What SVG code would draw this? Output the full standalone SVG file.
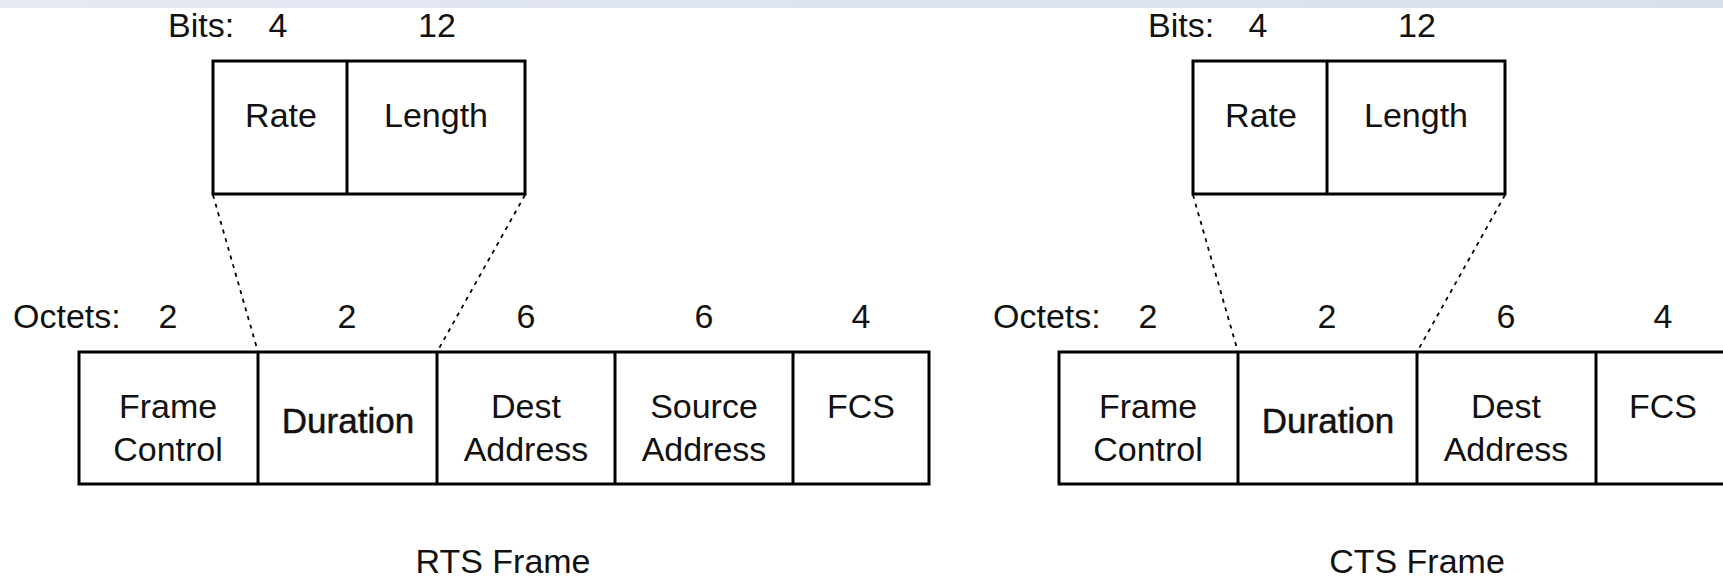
<svg xmlns="http://www.w3.org/2000/svg" width="1723" height="578" viewBox="0 0 1723 578">
<style>
  text { font-family: "Liberation Sans", Arial, sans-serif; font-size: 34px; fill: #111; }
  .c { text-anchor: middle; }
  .box { fill: #fff; stroke: #000; stroke-width: 3; }
  .div { stroke: #000; stroke-width: 3; }
  .dash { stroke: #000; stroke-width: 1.8; stroke-dasharray: 4 5; fill: none; }
  .dur { font-size: 35px; stroke: #111; stroke-width: 0.5; }
</style>
<defs>
  <linearGradient id="band" x1="0" y1="0" x2="1" y2="0">
    <stop offset="0" stop-color="#e4e9f2"/>
    <stop offset="1" stop-color="#d9e0ed"/>
  </linearGradient>
</defs>
<rect x="0" y="0" width="1723" height="578" fill="#fff"/>
<rect x="0" y="0" width="1723" height="8" fill="url(#band)"/>

<g id="connectors">
  <line class="dash" x1="213" y1="195" x2="258" y2="352"/>
  <line class="dash" x1="525" y1="195" x2="437" y2="352"/>
  <line class="dash" x1="1193" y1="195" x2="1238" y2="352"/>
  <line class="dash" x1="1505" y1="195" x2="1417" y2="352"/>
</g>

<g id="rts-bits">
  <text x="168" y="37">Bits:</text>
  <text class="c" x="278" y="37">4</text>
  <text class="c" x="437" y="37">12</text>
  <rect class="box" x="213" y="61" width="312" height="133"/>
  <line class="div" x1="347" y1="61" x2="347" y2="194"/>
  <text class="c" x="281" y="127">Rate</text>
  <text class="c" x="436" y="127">Length</text>
</g>

<g id="rts-frame">
  <text x="13" y="328">Octets:</text>
  <text class="c" x="168" y="328">2</text>
  <text class="c" x="347" y="328">2</text>
  <text class="c" x="526" y="328">6</text>
  <text class="c" x="704" y="328">6</text>
  <text class="c" x="861" y="328">4</text>
  <rect class="box" x="79" y="352" width="850" height="132"/>
  <line class="div" x1="258" y1="352" x2="258" y2="484"/>
  <line class="div" x1="437" y1="352" x2="437" y2="484"/>
  <line class="div" x1="615" y1="352" x2="615" y2="484"/>
  <line class="div" x1="793" y1="352" x2="793" y2="484"/>
  <text class="c" x="168" y="418">Frame</text>
  <text class="c" x="168" y="461">Control</text>
  <text class="c dur" x="348" y="433">Duration</text>
  <text class="c" x="526" y="418">Dest</text>
  <text class="c" x="526" y="461">Address</text>
  <text class="c" x="704" y="418">Source</text>
  <text class="c" x="704" y="461">Address</text>
  <text class="c" x="861" y="418">FCS</text>
  <text class="c" x="503" y="573">RTS Frame</text>
</g>

<g id="cts-bits">
  <text x="1148" y="37">Bits:</text>
  <text class="c" x="1258" y="37">4</text>
  <text class="c" x="1417" y="37">12</text>
  <rect class="box" x="1193" y="61" width="312" height="133"/>
  <line class="div" x1="1327" y1="61" x2="1327" y2="194"/>
  <text class="c" x="1261" y="127">Rate</text>
  <text class="c" x="1416" y="127">Length</text>
</g>

<g id="cts-frame">
  <text x="993" y="328">Octets:</text>
  <text class="c" x="1148" y="328">2</text>
  <text class="c" x="1327" y="328">2</text>
  <text class="c" x="1506" y="328">6</text>
  <text class="c" x="1663" y="328">4</text>
  <rect class="box" x="1059" y="352" width="673" height="132"/>
  <line class="div" x1="1238" y1="352" x2="1238" y2="484"/>
  <line class="div" x1="1417" y1="352" x2="1417" y2="484"/>
  <line class="div" x1="1596" y1="352" x2="1596" y2="484"/>
  <text class="c" x="1148" y="418">Frame</text>
  <text class="c" x="1148" y="461">Control</text>
  <text class="c dur" x="1328" y="433">Duration</text>
  <text class="c" x="1506" y="418">Dest</text>
  <text class="c" x="1506" y="461">Address</text>
  <text class="c" x="1663" y="418">FCS</text>
  <text class="c" x="1417" y="573">CTS Frame</text>
</g>
</svg>
